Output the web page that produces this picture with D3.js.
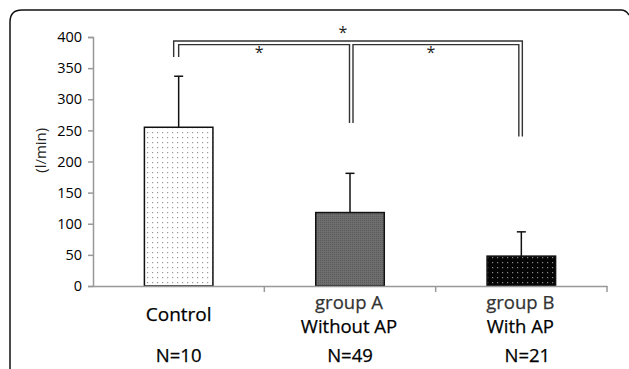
<!DOCTYPE html>
<html>
<head>
<meta charset="utf-8">
<script src="https://cdn.jsdelivr.net/npm/d3@7"></script>
<style>
  body { margin: 0; background: #fff; }
  text { font-family: "Open Sans", sans-serif; }
</style>
</head>
<body>
<svg id="chart" width="629" height="369"></svg>
<script>
const width = 629;
const height = 369;

// chart data
const categories = ["Control", "group A", "group B"];
const means = [255, 118, 48];
const errors = [82, 63, 39];
const subLabels = ["", "Without AP", "With AP"];
const nLabels = ["N=10", "N=49", "N=21"];
const yTicks = [0, 50, 100, 150, 200, 250, 300, 350, 400];
// significance brackets: from bar, to bar, row, where each leg stops (y value)
const brackets = [
  { a: 0, b: 2, row: 0, endA: 368, endB: 240 },
  { a: 0, b: 1, row: 1, endA: 368, endB: 262 },
  { a: 1, b: 2, row: 1, endA: 262, endB: 240 }
];

const margin = { left: 93, right: 22, top: 37, bottom: 83 };

const svg = d3.select("#chart");

// frame
svg.append("path")
  .attr("d", "M10,380 L10,22 Q10,10 22,10 L621,10 Q626,10 629,15")
  .attr("fill", "none")
  .attr("stroke", "#111")
  .attr("stroke-width", 1.5);

const x = d3.scaleBand()
  .domain(categories)
  .range([margin.left, width - margin.right])
  .padding(0);

const y = d3.scaleLinear()
  .domain([0, 400])
  .range([height - margin.bottom, margin.top]);

const barW = x.bandwidth() * 0.4;
const cx = (i) => x(categories[i]) + x.bandwidth() / 2;

// patterns
const defs = svg.append("defs");
const p1 = defs.append("pattern").attr("id", "dotsLight")
  .attr("width", 5).attr("height", 5).attr("patternUnits", "userSpaceOnUse");
p1.append("rect").attr("width", 5).attr("height", 5).attr("fill", "#fff");
p1.append("rect").attr("x", 2).attr("y", 2).attr("width", 1.2).attr("height", 1.2).attr("fill", "#999");

const p2 = defs.append("pattern").attr("id", "grayTex")
  .attr("width", 2).attr("height", 2).attr("patternUnits", "userSpaceOnUse");
p2.append("rect").attr("width", 2).attr("height", 2).attr("fill", "#6e6e6e");
p2.append("rect").attr("width", 1).attr("height", 1).attr("fill", "#5a5a5a");

const p3 = defs.append("pattern").attr("id", "dotsDark")
  .attr("width", 5).attr("height", 5).attr("patternUnits", "userSpaceOnUse");
p3.append("rect").attr("width", 5).attr("height", 5).attr("fill", "#050505");
p3.append("rect").attr("x", 2).attr("y", 2).attr("width", 1.2).attr("height", 1.2).attr("fill", "#888");

const fills = ["url(#dotsLight)", "url(#grayTex)", "url(#dotsDark)"];

// y axis
const yAxis = svg.append("g")
  .attr("transform", `translate(${margin.left},0)`)
  .call(d3.axisLeft(y).tickValues(yTicks).tickSize(5).tickPadding(6));
yAxis.select(".domain").attr("stroke", "#999").attr("stroke-width", 1.5);
yAxis.selectAll(".tick line").attr("stroke", "#999").attr("stroke-width", 1.5);
yAxis.selectAll(".tick text")
  .attr("fill", "#000")
  .style("font-size", "14.5px")
  .style("font-family", "'Open Sans', sans-serif");

svg.append("text")
  .attr("transform", `translate(46,${y(218)}) rotate(-90)`)
  .attr("text-anchor", "middle")
  .attr("fill", "#222")
  .style("font-size", "15px")
  .text("(l/min)");

// bars
svg.selectAll(".bar")
  .data(means)
  .join("rect")
  .attr("class", "bar")
  .attr("x", (d, i) => cx(i) - barW / 2)
  .attr("y", (d) => y(d))
  .attr("width", barW)
  .attr("height", (d) => y(0) - y(d))
  .attr("fill", (d, i) => fills[i])
  .attr("stroke", "#111")
  .attr("stroke-width", 1.5);

// error bars
means.forEach((m, i) => {
  const g = svg.append("g").attr("stroke", "#111").attr("stroke-width", 1.5);
  g.append("line")
    .attr("x1", cx(i)).attr("x2", cx(i))
    .attr("y1", y(m)).attr("y2", y(m + errors[i]));
  g.append("line")
    .attr("x1", cx(i) - 4.5).attr("x2", cx(i) + 4.5)
    .attr("y1", y(m + errors[i])).attr("y2", y(m + errors[i]));
});

// x axis
const xAxis = svg.append("g")
  .attr("transform", `translate(0,${y(0)})`)
  .call(d3.axisBottom(x).tickSize(0).tickFormat(""));
xAxis.select(".domain").attr("stroke", "#999").attr("stroke-width", 1.5);
categories.forEach((c) => {
  const xx = x(c) + x.bandwidth();
  xAxis.append("line")
    .attr("x1", xx).attr("x2", xx).attr("y1", 0).attr("y2", 6)
    .attr("stroke", "#999").attr("stroke-width", 1.5);
});

// significance brackets (drawn as double lines)
const bracketY0 = y(400) + 4;
brackets.forEach((br) => {
  const top = bracketY0 + br.row * 3.6;
  let xa, xb;
  if (br.row === 0) { xa = cx(br.a) - 5; xb = cx(br.b) + 1; }
  else if (br.a === 0) { xa = cx(br.a); xb = cx(br.b) - 0.5; }
  else { xa = cx(br.a) + 3; xb = cx(br.b) - 2.5; }
  svg.append("path")
    .attr("d", `M${xa},${y(br.endA)} L${xa},${top} L${xb},${top} L${xb},${y(br.endB)}`)
    .attr("fill", "none")
    .attr("stroke", "#333")
    .attr("stroke-width", 1.4);
  const sx = (xa + xb) / 2;
  svg.append("text")
    .attr("x", sx - 5)
    .attr("y", br.row === 0 ? top - 3 : top + 13)
    .attr("text-anchor", "middle")
    .attr("fill", "#222")
    .style("font-size", "16px")
    .text("*");
});

// category labels
const labels = svg.append("g").attr("fill", "#000").attr("text-anchor", "middle")
  .style("stroke", "#000").style("stroke-width", 0.25);
categories.forEach((c, i) => {
  if (i === 0) {
    labels.append("text").attr("x", cx(i)).attr("y", 321)
      .style("font-size", "19px").text(c);
  } else {
    labels.append("text").attr("x", cx(i) - 1).attr("y", 309)
      .attr("fill", "#333").style("stroke", "#333").style("font-size", "18.5px").text(c);
    labels.append("text").attr("x", cx(i) - 1).attr("y", 333)
      .style("font-size", "18.5px").text(subLabels[i]);
  }
  labels.append("text")
    .attr("x", cx(i) + (i === 2 ? 6 : 0))
    .attr("y", 362)
    .style("font-size", "18.5px")
    .text(nLabels[i]);
});
</script>
</body>
</html>
